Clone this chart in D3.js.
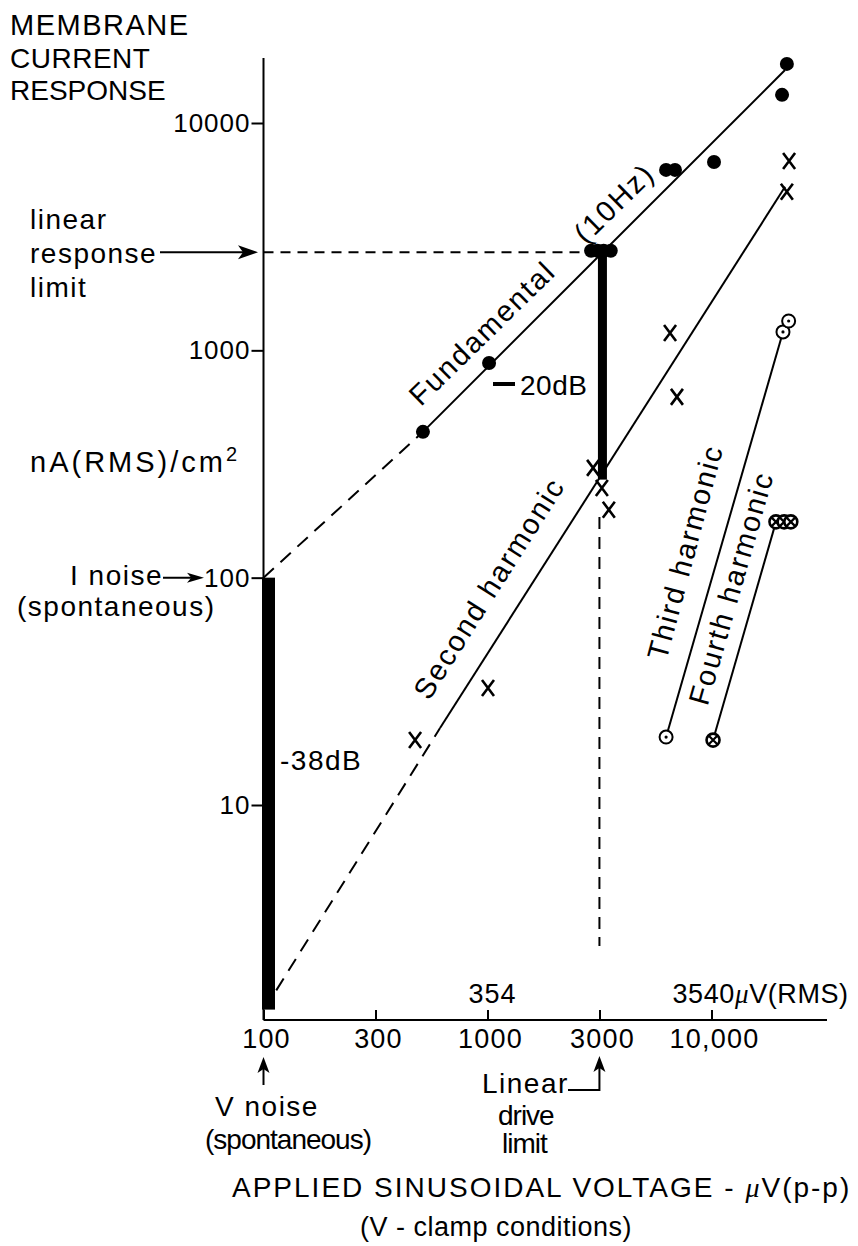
<!DOCTYPE html>
<html>
<head>
<meta charset="utf-8">
<script src="https://cdn.jsdelivr.net/npm/d3@7"></script>
<style>
  body { margin: 0; background: #fff; }
  text { font-family: "Liberation Sans", Arial, Helvetica, sans-serif; fill: #000; }
</style>
</head>
<body>
<svg id="chart" width="858" height="1246"></svg>
<script>
// ---- data: applied voltage (µV p-p) vs membrane current (nA RMS / cm²) ----
// Fundamental (10 Hz) response, filled circles
const fundV = [515, 1016, 2900, 3100, 3300, 3550, 6270, 6870, 10260, 20650, 21700];
const fundI = [438, 880, 2740, 2740, 2740, 2740, 6220, 6220, 6740, 13300, 18200];
// Second harmonic, crosses
const secondV = [475, 1005, 2960, 3240, 3480, 6530, 7010, 22200, 21700];
const secondI = [19.3, 32.7, 304, 248, 199, 1193, 624, 6810, 4980];
// Third harmonic, dotted circles
const thirdV = [6270, 20850, 22100];
const thirdI = [19.9, 1205, 1346];
// Fourth harmonic, crossed circles
const fourthV = [10160, 19400, 21100, 22600];
const fourthI = [19.3, 176, 176, 176];

// fitted lines: dashed extrapolation, then solid fit
const fundDashV = [100, 515],   fundDashI = [100, 438];
const fundFitV  = [515, 21300], fundFitI  = [438, 17100];
const secDashV  = [114, 614],   secDashI  = [1.53, 21.8];
const secFitV   = [614, 21300], secFitI   = [21.8, 5240];
const thirdFitV = [6270, 20850], thirdFitI = [19.9, 1205];
const fourthFitV = [10160, 19400], fourthFitI = [19.3, 176];

// noise and linear limits
const vNoise = 100, iNoise = 100, noiseDb = -38;
const linearResponseI = 2700, linearDriveV = 3160, driveDb = -20;
const linearResponseToV = 2900;
const driveDashI = [185, 2.4];

// axis ticks
const xTickValues = [100, 316.2, 1000, 3162, 10000];
const xTickLabels = ["100", "300", "1000", "3000", "10,000"];
const yTickValues = [10, 100, 1000, 10000];
const yTickLabels = ["10", "100", "1000", "10000"];

// ---- scales ----
const x = d3.scaleLog().domain([100, 10000]).range([263.5, 711.5]);
const y = d3.scaleLog().domain([10, 10000]).range([805, 123]);
const xMax = x.invert(827), yMin = y.invert(1020), yMax = y.invert(58);

const svg = d3.select("#chart");
const g = svg.append("g");

// ---- axes ----
const xAxis = d3.axisBottom(x).tickValues(xTickValues).tickSize(-10).tickFormat(() => "");
const xg = g.append("g").attr("transform", `translate(0,${y(yMin)})`).call(xAxis);
xg.select(".domain").attr("d", `M${x(100)},0H${x(xMax)}`).attr("stroke-width", 2.2);
xg.selectAll(".tick line").attr("stroke-width", 2);

const yAxis = d3.axisLeft(y).tickValues(yTickValues).tickSize(12).tickFormat(() => "");
const yg = g.append("g").attr("transform", `translate(${x(100)},0)`).call(yAxis);
yg.select(".domain").attr("d", `M0,${y(yMax)}V${y(yMin)}`).attr("stroke-width", 2);
yg.selectAll(".tick line").attr("stroke-width", 2);

// tick labels
const tickFont = 27;
g.selectAll(".xlab").data(xTickValues).join("text")
  .attr("x", d => x(d) + 3).attr("y", 1048)
  .attr("text-anchor", "middle").attr("font-size", tickFont).attr("letter-spacing", 1.2)
  .text((d, i) => xTickLabels[i]);
g.selectAll(".ylab").data(yTickValues).join("text")
  .attr("x", x(100) - 13).attr("y", d => y(d) + 9)
  .attr("text-anchor", "end").attr("font-size", 26).attr("letter-spacing", 1)
  .text((d, i) => yTickLabels[i]);

// RMS equivalents on top of x axis
g.append("text").attr("x", x(1000) + 5).attr("y", 1003).attr("text-anchor", "middle")
  .attr("font-size", tickFont).attr("letter-spacing", 1).text("354");
const rms = g.append("text").attr("x", x(10000) - 39).attr("y", 1003)
  .attr("font-size", tickFont).attr("letter-spacing", 0.6);
rms.append("tspan").text("3540");
rms.append("tspan").attr("font-family", "Liberation Serif, serif").attr("font-style", "italic").text("\u03bc");
rms.append("tspan").text("V(RMS)");

// ---- reference lines ----
g.append("line")
  .attr("x1", x(100)).attr("x2", x(linearResponseToV))
  .attr("y1", y(linearResponseI)).attr("y2", y(linearResponseI))
  .attr("stroke", "#000").attr("stroke-width", 2).attr("stroke-dasharray", "10,7");
g.append("line")
  .attr("x1", x(linearDriveV)).attr("x2", x(linearDriveV))
  .attr("y1", y(driveDashI[0])).attr("y2", y(driveDashI[1]))
  .attr("stroke", "#000").attr("stroke-width", 2).attr("stroke-dasharray", "12,8");

// noise bar (-38 dB) and linear drive bar (-20 dB)
const noiseBottom = iNoise * Math.pow(10, noiseDb / 20);
g.append("rect")
  .attr("x", x(vNoise) - 1.5).attr("width", 13)
  .attr("y", y(iNoise)).attr("height", y(noiseBottom) - y(iNoise))
  .attr("fill", "#000");
const driveBottom = linearResponseI * Math.pow(10, driveDb / 20);
g.append("rect")
  .attr("x", x(linearDriveV) - 1.5).attr("width", 9)
  .attr("y", y(linearResponseI)).attr("height", y(driveBottom) - y(linearResponseI))
  .attr("fill", "#000");

// ---- fitted lines ----
const line = d3.line().x(d => x(d[0])).y(d => y(d[1]));
function fit(vs, is, dashed) {
  g.append("path").datum(d3.zip(vs, is)).attr("d", line)
    .attr("fill", "none").attr("stroke", "#000").attr("stroke-width", 2)
    .attr("stroke-dasharray", dashed ? "14,9" : null);
}
fit(fundDashV, fundDashI, true);
fit(fundFitV, fundFitI, false);
fit(secDashV, secDashI, true);
fit(secFitV, secFitI, false);
fit(thirdFitV, thirdFitI, false);
fit(fourthFitV, fourthFitI, false);

// ---- markers ----
g.selectAll(".fund").data(d3.zip(fundV, fundI)).join("circle")
  .attr("cx", d => x(d[0])).attr("cy", d => y(d[1])).attr("r", 7).attr("fill", "#000");

g.selectAll(".sec").data(d3.zip(secondV, secondI)).join("path")
  .attr("d", d => {
    const cx = x(d[0]), cy = y(d[1]);
    return `M${cx - 6},${cy - 8}L${cx + 6},${cy + 8}M${cx + 6},${cy - 8}L${cx - 6},${cy + 8}`;
  })
  .attr("stroke", "#000").attr("stroke-width", 2.6).attr("fill", "none");

const thirdG = g.selectAll(".third").data(d3.zip(thirdV, thirdI)).join("g")
  .attr("transform", d => `translate(${x(d[0])},${y(d[1])})`);
thirdG.append("circle").attr("r", 6.5).attr("fill", "#fff").attr("stroke", "#000").attr("stroke-width", 2);
thirdG.append("circle").attr("r", 1.6).attr("fill", "#000");

const fourthG = g.selectAll(".fourth").data(d3.zip(fourthV, fourthI)).join("g")
  .attr("transform", d => `translate(${x(d[0])},${y(d[1])})`);
fourthG.append("circle").attr("r", 6.5).attr("fill", "#fff").attr("stroke", "#000").attr("stroke-width", 2.6);
fourthG.append("path").attr("d", "M-4.5,-4.5L4.5,4.5M4.5,-4.5L-4.5,4.5")
  .attr("stroke", "#000").attr("stroke-width", 2.2);

// ---- text ----
function txt(px, py, s, opts = {}) {
  return g.append("text").attr("x", px).attr("y", py)
    .attr("font-size", opts.size || 28)
    .attr("letter-spacing", opts.ls !== undefined ? opts.ls : 1.5)
    .attr("text-anchor", opts.anchor || "start")
    .text(s);
}
function rotated(cx, cy, angle, s) {
  g.append("text")
    .attr("transform", `translate(${cx},${cy}) rotate(${angle})`)
    .attr("text-anchor", "middle").attr("dy", "0.35em")
    .attr("font-size", 29).attr("letter-spacing", 2)
    .text(s);
}

txt(10, 35, "MEMBRANE", { size: 29 });
txt(10, 68, "CURRENT", { size: 28, ls: 0.5 });
txt(10, 100, "RESPONSE", { size: 28, ls: 0 });

txt(30, 229, "linear");
txt(30, 263, "response");
txt(30, 297, "limit");

const nA = txt(30, 472, "nA(RMS)/cm", { size: 29, ls: 3 });
nA.append("tspan").attr("dy", -11).attr("font-size", 20).text("2");

txt(70, 585, "I noise");
txt(17, 616, "(spontaneous)");

txt(280, 770, "-38dB");
txt(520, 395, "20dB", { ls: 0.5 });
g.append("line").attr("x1", 493).attr("x2", 515).attr("y1", 384).attr("y2", 384)
  .attr("stroke", "#000").attr("stroke-width", 4);

txt(267, 1116, "V noise", { anchor: "middle" });
txt(288, 1149, "(spontaneous)", { anchor: "middle", size: 28, ls: -1 });

txt(482, 1093, "Linear");
txt(498, 1125, "drive", { size: 28, ls: -1 });
txt(502, 1153, "limit", { size: 28, ls: -1 });

const title = txt(232, 1197, "APPLIED SINUSOIDAL VOLTAGE -  ", { ls: 2 });
title.append("tspan").attr("font-family", "Liberation Serif, serif").attr("font-style", "italic").text("\u03bc");
title.append("tspan").text("V(p-p)");
txt(360, 1236, "(V - clamp conditions)", { size: 27, ls: 0.5 });

rotated(482, 333, -44.4, "Fundamental");
rotated(614, 203, -44.4, "(10Hz)");
rotated(489, 588, -57.6, "Second harmonic");
rotated(685, 552, -75, "Third harmonic");
rotated(731, 588, -74, "Fourth harmonic");

// ---- arrows ----
function arrowHead(tipX, tipY, dir, len, half) {
  // dir: unit vector pointing toward the tip
  const [dx, dy] = dir;
  const bx = tipX - dx * len, by = tipY - dy * len;
  const px = -dy * half, py = dx * half;
  g.append("path")
    .attr("d", `M${tipX},${tipY}L${bx + px},${by + py}L${tipX - dx * len * 0.75},${tipY - dy * len * 0.75}L${bx - px},${by - py}Z`)
    .attr("fill", "#000");
}
function stroke(d) {
  g.append("path").attr("d", d).attr("fill", "none").attr("stroke", "#000").attr("stroke-width", 2);
}
// linear response limit arrow
stroke(`M160,${y(linearResponseI)}H250`);
arrowHead(258, y(linearResponseI), [1, 0], 20, 7);
// current noise arrow
stroke(`M163,${y(iNoise)}H198`);
arrowHead(204, y(iNoise), [1, 0], 17, 5);
// voltage noise arrow
stroke(`M${x(vNoise)},1085V1065`);
arrowHead(x(vNoise), 1057, [0, -1], 16, 6);
// linear drive limit arrow
stroke(`M568,1090H${x(linearDriveV)}V1065`);
arrowHead(x(linearDriveV), 1056, [0, -1], 16, 6);
</script>
</body>
</html>
